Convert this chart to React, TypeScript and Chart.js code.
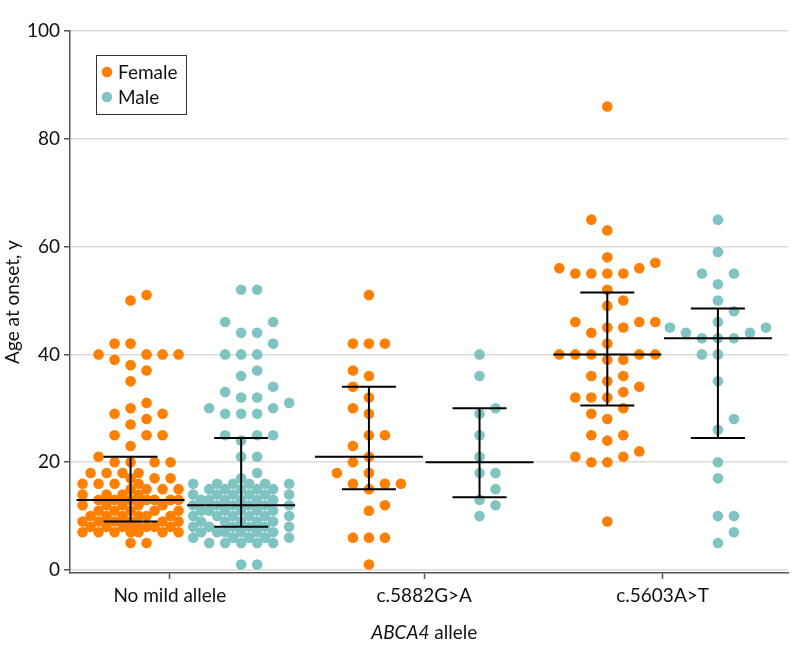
import { useEffect, useRef } from 'react';
import Chart from 'chart.js/auto';

// ages, one list per allele group and sex
const categories = ['No mild allele', 'c.5882G>A', 'c.5603A>T'];
const tickPositions = [0.933, 2, 3];
const yTicks = [0, 20, 40, 60, 80, 100];

const femaleNoMild = [
  51, 50, 42, 42, 40, 40, 40, 40, 39, 38, 37, 35, 31, 30, 29, 29, 28, 27, 25, 25, 25, 23, 21,
  20, 20, 20, 20, 18, 18, 18, 18, 17, 17, 17, 16, 16, 16, 16, 15, 15, 15, 15, 14, 14, 14, 14,
  13, 13, 13, 13, 13, 13, 13, 12, 12, 12, 12, 12, 11, 11, 11, 11, 11, 10, 10, 10, 10, 10, 10,
  9, 9, 9, 9, 9, 9, 8, 8, 8, 8, 8, 8, 8, 8, 7, 7, 7, 7, 7, 7, 7, 5, 5,
];
const maleNoMild = [
  52, 52, 46, 46, 44, 44, 42, 40, 40, 40, 37, 36, 34, 33, 32, 32, 31, 30, 30, 29, 29, 29, 25,
  25, 25, 24, 21, 21, 18, 17, 16, 16, 16, 16, 16, 16, 15, 15, 15, 15, 15, 14, 14, 14, 14, 14,
  14, 13, 13, 13, 13, 13, 13, 12, 12, 12, 12, 12, 12, 11, 11, 11, 11, 11, 11, 10, 10, 10, 10,
  10, 10, 9, 9, 9, 9, 9, 8, 8, 8, 8, 8, 8, 7, 7, 7, 7, 7, 7, 6, 6, 6, 6, 6, 5, 5, 5, 5, 5, 1, 1,
];
const femaleC5882 = [
  51, 42, 42, 42, 37, 36, 34, 32, 30, 29, 25, 25, 23, 21, 20, 18, 18, 16, 16, 16, 15, 12, 11,
  6, 6, 6, 1,
];
const maleC5882 = [40, 36, 30, 29, 25, 21, 18, 18, 15, 13, 12, 10];
const femaleC5603 = [
  86, 65, 63, 58, 57, 56, 56, 55, 55, 55, 55, 52, 50, 49, 46, 46, 46, 45, 45, 44, 42, 40, 40,
  40, 40, 40, 39, 39, 36, 36, 35, 34, 33, 32, 32, 32, 30, 29, 28, 25, 25, 24, 22, 21, 21, 20,
  20, 9,
];
const maleC5603 = [
  65, 59, 55, 55, 53, 50, 48, 46, 45, 45, 44, 44, 43, 43, 43, 40, 40, 35, 28, 26, 20, 17, 10,
  10, 7, 5,
];

// median and interquartile range per group
const femaleMedian = [13, 21, 40];
const femaleQ1 = [9, 15, 30.5];
const femaleQ3 = [21, 34, 51.5];
const maleMedian = [12, 20, 43];
const maleQ1 = [8, 13.5, 24.5];
const maleQ3 = [24.5, 30, 48.5];

const ORANGE = '#ff7f00';
const TEAL = '#7fc4c3';
const FONT = 'Lato, "Noto Sans", sans-serif';
const FONT_SIZE = 19;

const X_MIN = 0.514;
const X_MAX = 3.526;
const Y_MIN = -0.56;
const SEX_SHIFT = 0.232;
const PX_X = 238.4; // px per x unit
const PX_Y = 5.39; // px per year
const STEP = 8;
const MIN_DIST = 15;
const MAX_HALF = 48;

// simple beeswarm: put each point as close to the centre as it can go without overlap
function swarm(values: number[]): number[] {
  const order = values.map((_, i) => i).sort((a, b) => values[a] - values[b]);
  const placed: { x: number; y: number }[] = [];
  const offs = new Array(values.length).fill(0);
  for (const i of order) {
    const y = values[i] * PX_Y;
    let best = 0;
    let bestScore = -Infinity;
    let found = false;
    const sides = placed.length % 2 ? [1, -1] : [-1, 1];
    for (let k = 0; k <= MAX_HALF / STEP && !found; k++) {
      for (const s of k === 0 ? [1] : sides) {
        const x = s * k * STEP;
        let md = Infinity;
        for (const p of placed) {
          const d = Math.hypot(p.x - x, p.y - y);
          if (d < md) md = d;
        }
        if (md >= MIN_DIST) {
          best = x;
          found = true;
          break;
        }
        if (md > bestScore + 0.01) {
          bestScore = md;
          best = x;
        }
      }
    }
    placed.push({ x: best, y });
    offs[i] = best;
  }
  return offs;
}

function toPoints(groups: number[][], shift: number) {
  const pts: { x: number; y: number }[] = [];
  groups.forEach((vals, g) => {
    const offs = swarm(vals);
    vals.forEach((v, i) => pts.push({ x: g + 1 + shift + offs[i] / PX_X, y: v }));
  });
  return pts;
}

const overlay = {
  id: 'overlay',
  afterDatasetsDraw(chart: any) {
    const { ctx, scales } = chart;
    const xs = scales.x;
    const ys = scales.y;
    ctx.save();
    ctx.strokeStyle = '#000';
    ctx.lineWidth = 2;
    const sets = [
      { shift: -SEX_SHIFT, med: femaleMedian, q1: femaleQ1, q3: femaleQ3 },
      { shift: SEX_SHIFT, med: maleMedian, q1: maleQ1, q3: maleQ3 },
    ];
    for (const s of sets) {
      for (let g = 0; g < 3; g++) {
        const cx = xs.getPixelForValue(g + 1 + s.shift);
        const ym = ys.getPixelForValue(s.med[g]);
        const y1 = ys.getPixelForValue(s.q1[g]);
        const y3 = ys.getPixelForValue(s.q3[g]);
        ctx.beginPath();
        ctx.moveTo(cx - 54, ym);
        ctx.lineTo(cx + 54, ym);
        ctx.moveTo(cx - 27, y1);
        ctx.lineTo(cx + 27, y1);
        ctx.moveTo(cx - 27, y3);
        ctx.lineTo(cx + 27, y3);
        ctx.moveTo(cx, y1);
        ctx.lineTo(cx, y3);
        ctx.stroke();
      }
    }
    ctx.restore();
  },
  afterDraw(chart: any) {
    const { ctx, scales } = chart;
    ctx.save();
    // legend box
    ctx.strokeStyle = '#333';
    ctx.lineWidth = 1;
    ctx.strokeRect(96.5, 55.5, 90, 59);
    ctx.font = `${FONT_SIZE}px ${FONT}`;
    ctx.textBaseline = 'middle';
    ctx.textAlign = 'left';
    const items = [
      { label: 'Female', color: ORANGE, y: 72 },
      { label: 'Male', color: TEAL, y: 97 },
    ];
    for (const it of items) {
      ctx.fillStyle = it.color;
      ctx.beginPath();
      ctx.arc(107, it.y, 5.3, 0, Math.PI * 2);
      ctx.fill();
      ctx.fillStyle = '#111';
      ctx.fillText(it.label, 118, it.y + 1);
    }
    // x axis title with italic gene name
    const italic = `italic ${FONT_SIZE}px ${FONT}`;
    const normal = `${FONT_SIZE}px ${FONT}`;
    ctx.font = italic;
    const w1 = ctx.measureText('ABCA4').width;
    ctx.font = normal;
    const w2 = ctx.measureText(' allele').width;
    const cx = scales.x.getPixelForValue(2);
    let x = cx - (w1 + w2) / 2;
    ctx.fillStyle = '#111';
    ctx.font = italic;
    ctx.fillText('ABCA4', x, 633);
    x += w1;
    ctx.font = normal;
    ctx.fillText(' allele', x, 633);
    ctx.restore();
  },
};

export default function App() {
  const canvasRef = useRef<HTMLCanvasElement>(null);

  useEffect(() => {
    if (!canvasRef.current) return;
    const female = toPoints([femaleNoMild, femaleC5882, femaleC5603], -SEX_SHIFT);
    const male = toPoints([maleNoMild, maleC5882, maleC5603], SEX_SHIFT);
    const tickFont = { family: FONT, size: FONT_SIZE };
    const chart = new Chart(canvasRef.current, {
      type: 'scatter',
      data: {
        datasets: [
          { label: 'Female', data: female, backgroundColor: ORANGE, borderWidth: 0, pointRadius: 5.3, pointHoverRadius: 5.3 },
          { label: 'Male', data: male, backgroundColor: TEAL, borderWidth: 0, pointRadius: 5.3, pointHoverRadius: 5.3 },
        ],
      },
      options: {
        animation: false,
        responsive: true,
        maintainAspectRatio: false,
        layout: { padding: { top: 31, right: 10, left: 0, bottom: 0 } },
        plugins: { legend: { display: false }, tooltip: { enabled: false } },
        scales: {
          x: {
            type: 'linear',
            min: X_MIN,
            max: X_MAX,
            afterBuildTicks: (s: any) => {
              s.ticks = tickPositions.map((v) => ({ value: v }));
            },
            afterFit: (s: any) => {
              s.height = 87;
            },
            ticks: {
              callback: (_v: any, i: number) => categories[i],
              font: tickFont,
              color: '#111',
              padding: 5,
              autoSkip: false,
              maxRotation: 0,
            },
            grid: { drawOnChartArea: false, drawTicks: true, tickLength: 6, tickColor: '#555', tickWidth: 1.5 },
            border: { color: '#555', width: 1.5 },
          },
          y: {
            min: Y_MIN,
            max: 100,
            afterBuildTicks: (s: any) => {
              s.ticks = yTicks.map((v) => ({ value: v }));
            },
            afterFit: (s: any) => {
              s.width = 70;
            },
            ticks: { font: tickFont, color: '#111', padding: 4 },
            grid: { color: '#dadada', lineWidth: 1.5, tickColor: '#555', tickLength: 6, tickWidth: 1.5 },
            border: { color: '#555', width: 1.5 },
            title: { display: true, text: 'Age at onset, y', font: tickFont, color: '#111', padding: { top: 1, bottom: 0 } },
          },
        },
      },
      plugins: [overlay],
    });
    return () => chart.destroy();
  }, []);

  return (
    <div style={{ position: 'fixed', left: 0, top: 0, width: 798, height: 660, background: '#fff' }}>
      <canvas ref={canvasRef} />
    </div>
  );
}
